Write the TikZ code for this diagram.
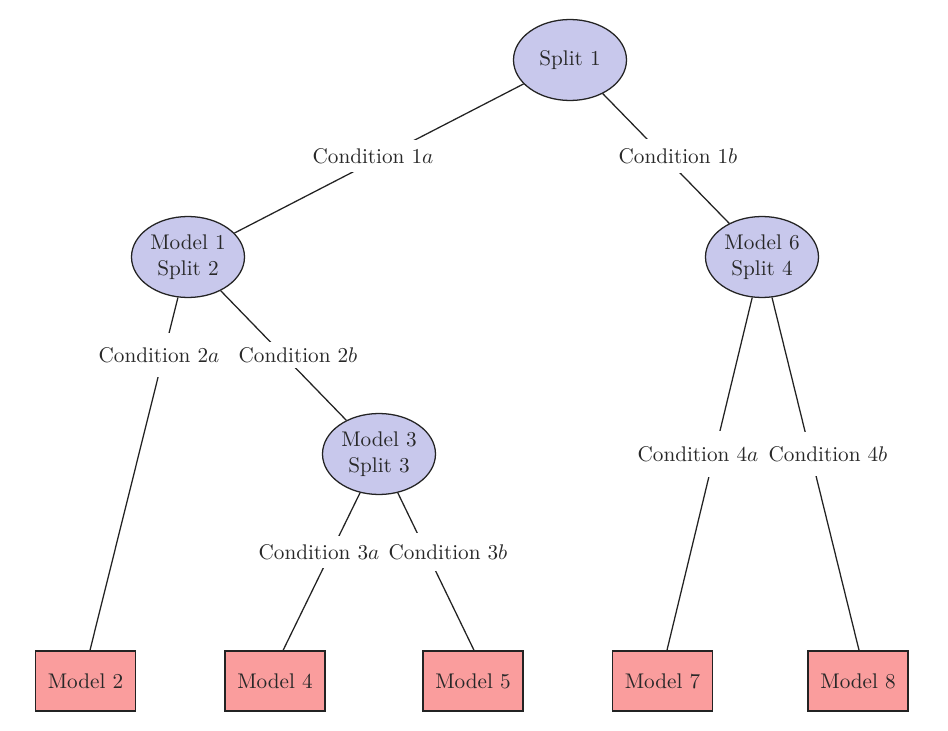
\documentclass[tikz,border=0pt]{standalone}
\usetikzlibrary{shapes.geometric}
\definecolor{splitfill}{RGB}{200,200,236}
\definecolor{leaffill}{RGB}{250,157,157}
\definecolor{linec}{RGB}{35,35,35}
\definecolor{textc}{RGB}{40,40,40}
\begin{document}
\begin{tikzpicture}[x=0.4717pt, y=-0.4717pt,
  splitnode/.style={ellipse, draw=linec, fill=splitfill, line width=0.6pt,
    minimum width=53.3pt, minimum height=38.2pt, inner sep=0pt, align=center, text=textc},
  leafnode/.style={rectangle, draw=linec, fill=leaffill, line width=0.6pt,
    minimum width=47.2pt, minimum height=28.3pt, inner sep=0pt, text=textc},
  condnode/.style={rectangle, fill=white, inner xsep=1pt, inner ysep=0pt, text=textc},
  conn/.style={draw=linec, line width=0.6pt}]
\useasboundingbox (0,0) rectangle (948,731);
% split nodes
\node[splitnode] (s1) at (570,60) {Split 1};
\node[splitnode] (m1) at (188,257) {Model 1\\Split 2};
\node[splitnode] (m6) at (762,257) {Model 6\\Split 4};
\node[splitnode] (m3) at (379,454) {Model 3\\Split 3};
% leaves
\node[leafnode] (l2) at (85.5,681) {Model 2};
\node[leafnode] (l4) at (275,681) {Model 4};
\node[leafnode] (l5) at (473,681) {Model 5};
\node[leafnode] (l7) at (662.5,681) {Model 7};
\node[leafnode] (l8) at (858,681) {Model 8};
% connectors
\draw[conn] (s1) -- (m1);
\draw[conn] (s1) -- (m6);
\draw[conn] (m1) -- ([xshift=2.1pt]l2.north);
\draw[conn] (m1) -- (m3);
\draw[conn] (m3) -- ([xshift=3.8pt]l4.north);
\draw[conn] (m3) -- ([xshift=0.5pt]l5.north);
\draw[conn] (m6) -- ([xshift=2.1pt]l7.north);
\draw[conn] (m6) -- ([xshift=0.5pt]l8.north);
% condition labels
\node[condnode, minimum height=15.1pt] (c1a) at (373,156) {Condition 1$a$};
\node[condnode, minimum height=16.5pt] (c1b) at (678,156) {Condition 1$b$};
\node[condnode, minimum height=21.2pt] (c2a) at (159,355) {Condition 2$a$};
\node[condnode, minimum height=12.3pt] (c2b) at (298,355) {Condition 2$b$};
\node[condnode, minimum height=15.1pt] (c3a) at (319,552) {Condition 3$a$};
\node[condnode, minimum height=17.5pt] (c3b) at (448,552) {Condition 3$b$};
\node[condnode, minimum height=21.7pt] (c4a) at (698,454) {Condition 4$a$};
\node[condnode, minimum height=20.3pt] (c4b) at (828,454) {Condition 4$b$};
\end{tikzpicture}
\end{document}
